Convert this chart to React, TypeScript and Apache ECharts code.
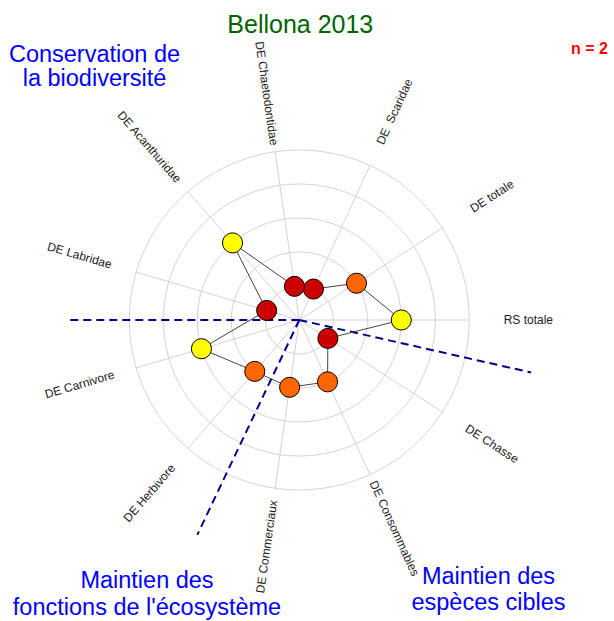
import React, { useEffect, useRef } from "react";
import * as echarts from "echarts";

const categories = [
  "RS totale",
  "DE totale",
  "DE  Scaridae",
  "DE Chaetodontidae",
  "DE Acanthuridae",
  "DE Labridae",
  "DE Carnivore",
  "DE Herbivore",
  "DE Commerciaux",
  "DE Consommables",
  "DE Chasse",
];
const values = [3, 2, 1, 1, 3, 1, 3, 2, 2, 2, 1];
const classColors: Record<number, string> = { 1: "#CC0000", 2: "#FF6600", 3: "#FFFF00" };
// dashed group separators: angle (in axis units, 11 per turn) and length (radius units)
const dividerAngles = [5.5, 7.474, 10.61];
const dividerLengths = [6.8, 7, 7];
const title = "Bellona 2013";
const nLabel = "n = 2";
const groupTexts = [
  ["Conservation de", "la biodiversité"],
  ["Maintien des", "fonctions de l'écosystème"],
  ["Maintien des", "espèces cibles"],
];

const FONT = "'Liberation Sans', Arial, sans-serif";

export default function App() {
  const ref = useRef<HTMLDivElement>(null);
  useEffect(() => {
    if (!ref.current) return;
    const chart = echarts.init(ref.current, null, { renderer: "svg" });
    const cx = 299.3;
    const cy = 320;
    const R = 170;
    const RMAX = 5;
    const OUTER = 7;
    const n = categories.length;
    const labelR = 229;

    const labelGraphics = categories.map((name, i) => {
      const deg = (i * 360) / n;
      const rad = (deg * Math.PI) / 180;
      let rot = deg;
      if (rot > 90 && rot <= 270) rot = rot - 180;
      else if (rot > 270) rot = rot - 360;
      return {
        type: "text",
        x: cx + labelR * Math.cos(rad),
        y: cy - labelR * Math.sin(rad),
        rotation: (rot * Math.PI) / 180,
        style: {
          text: name,
          fill: "#222",
          font: `12px ${FONT}`,
          textAlign: "center",
          verticalAlign: "middle",
        },
      };
    });

    const groupPos = [
      { x: 94.5, y: [53.6, 78] },
      { x: 147, y: [579.6, 606.8] },
      { x: 488.5, y: [576.2, 601.8] },
    ];
    const groupGraphics: any[] = [];
    groupTexts.forEach((lines, gi) => {
      lines.forEach((t, li) => {
        groupGraphics.push({
          type: "text",
          x: groupPos[gi].x,
          y: groupPos[gi].y[li],
          style: {
            text: t,
            fill: "#0000FF",
            font: `23.5px ${FONT}`,
            textAlign: "center",
            verticalAlign: "middle",
          },
        });
      });
    });

    const polyData: any[] = values.map((v, i) => ({
      value: [v, i],
      itemStyle: { color: classColors[v] },
    }));
    polyData.push({ value: [values[0], n], symbol: "none" });

    const dividerSeries = dividerAngles.map((a, i) => ({
      type: "line",
      coordinateSystem: "polar",
      polarIndex: 1,
      data: [
        [0, a],
        [dividerLengths[i], a],
      ],
      symbol: "none",
      clip: false,
      silent: true,
      z: 3,
      lineStyle: { color: "#00008B", width: 2, type: [8, 5] },
    }));

    const hiddenAxis = {
      axisLine: { show: false },
      axisTick: { show: false },
      axisLabel: { show: false },
      splitLine: { show: false },
    };

    chart.setOption({
      animation: false,
      backgroundColor: "#ffffff",
      polar: [
        { center: [cx, cy], radius: R },
        { center: [cx, cy], radius: (R * OUTER) / RMAX },
      ],
      angleAxis: [
        {
          polarIndex: 0,
          type: "value",
          min: 0,
          max: n,
          interval: 1,
          startAngle: 0,
          clockwise: false,
          axisLine: { show: false },
          axisTick: { show: false },
          axisLabel: { show: false },
          splitLine: { show: true, lineStyle: { color: "#d3d3d3", width: 1 } },
        },
        {
          polarIndex: 1,
          type: "value",
          min: 0,
          max: n,
          interval: 1,
          startAngle: 0,
          clockwise: false,
          ...hiddenAxis,
        },
      ],
      radiusAxis: [
        {
          polarIndex: 0,
          type: "value",
          min: 0,
          max: RMAX,
          interval: 1,
          axisLine: { show: false },
          axisTick: { show: false },
          axisLabel: { show: false },
          splitLine: { show: true, lineStyle: { color: "#d3d3d3", width: 1 } },
        },
        {
          polarIndex: 1,
          type: "value",
          min: 0,
          max: OUTER,
          interval: 1,
          ...hiddenAxis,
        },
      ],
      series: [
        ...dividerSeries,
        {
          type: "line",
          coordinateSystem: "polar",
          polarIndex: 0,
          data: polyData,
          symbol: "circle",
          symbolSize: 20,
          clip: false,
          z: 5,
          lineStyle: { color: "#444", width: 1 },
          itemStyle: { borderColor: "#000", borderWidth: 1 },
        },
      ],
      graphic: [
        {
          type: "text",
          x: 300.3,
          y: 23.6,
          style: {
            text: title,
            fill: "#006400",
            font: `25px ${FONT}`,
            textAlign: "center",
            verticalAlign: "middle",
          },
        },
        {
          type: "text",
          x: 571,
          y: 48.8,
          style: {
            text: nLabel,
            fill: "#FF0000",
            font: `bold 16px ${FONT}`,
            textAlign: "left",
            verticalAlign: "middle",
          },
        },
        ...groupGraphics,
        ...labelGraphics,
      ],
    });
    return () => chart.dispose();
  }, []);
  return (
    <div
      ref={ref}
      style={{ position: "fixed", left: 0, top: 0, width: 614, height: 621, background: "#fff" }}
    />
  );
}
